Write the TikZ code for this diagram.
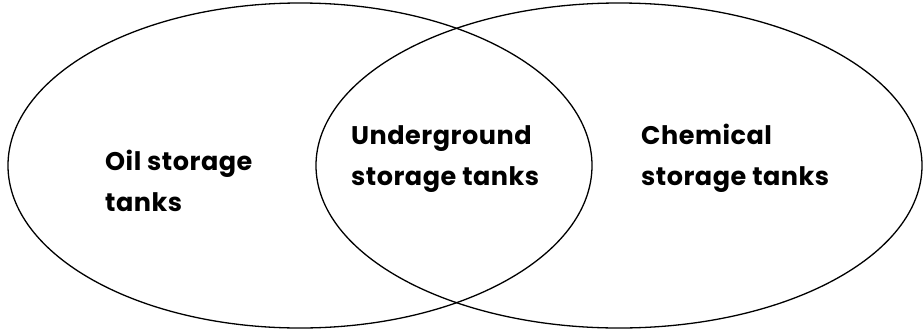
\documentclass[tikz,border=0pt]{standalone}
\usepackage{fontspec}
\newfontfamily\venfont{Poppins Bold}[LetterSpace=2]
\begin{document}
\begin{tikzpicture}[x=1pt,y=-1pt,
  setring/.style={draw=black,line width=1.3pt},
  setlabel/.style={anchor=base west,inner sep=0pt,align=left,
    font=\venfont\fontsize{25.5}{41}\selectfont}]
\useasboundingbox (0,0) rectangle (923,330);
\draw[setring] (300,165.5) ellipse [x radius=292, y radius=162.5];
\draw[setring] (619,165.5) ellipse [x radius=303, y radius=162.5];
\node[setlabel] (oil) at (105,211) {Oil storage\\tanks};
\node[setlabel] (under) at (351,185) {Underground\\storage tanks};
\node[setlabel] (chem) at (641,185) {Chemical\\storage tanks};
\end{tikzpicture}
\end{document}
